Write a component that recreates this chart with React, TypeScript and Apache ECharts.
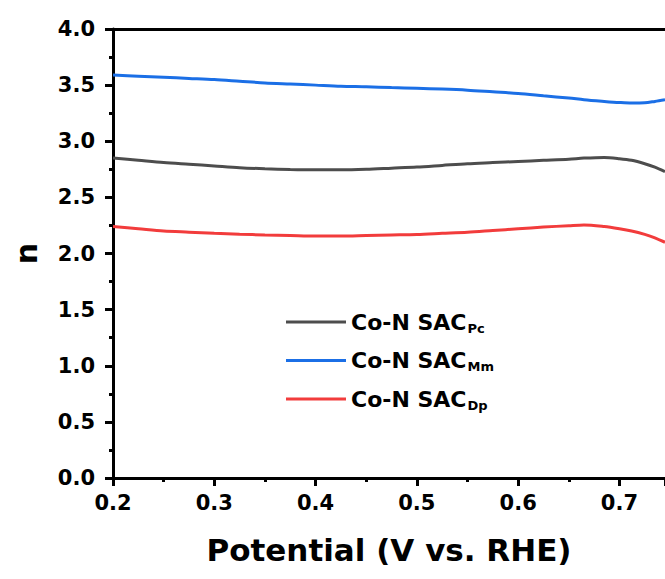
import React, { useEffect, useRef } from "react";
import * as echarts from "echarts";

// Electron transfer number n versus applied potential (V vs. RHE)
const potential = [
  0.2, 0.225, 0.25, 0.275, 0.3, 0.325, 0.35, 0.375, 0.4, 0.425, 0.45, 0.475,
  0.5, 0.525, 0.55, 0.575, 0.6, 0.625, 0.65, 0.665, 0.685, 0.7, 0.712, 0.725,
  0.735, 0.745,
];

const nPc = [
  2.85, 2.83, 2.81, 2.795, 2.78, 2.765, 2.755, 2.748, 2.745, 2.745, 2.75, 2.76,
  2.77, 2.785, 2.8, 2.81, 2.82, 2.83, 2.84, 2.85, 2.856, 2.845, 2.83, 2.8,
  2.77, 2.73,
];

const nMm = [
  3.59, 3.58, 3.57, 3.56, 3.55, 3.535, 3.52, 3.51, 3.5, 3.49, 3.485, 3.478,
  3.472, 3.465, 3.455, 3.44, 3.425, 3.405, 3.385, 3.37, 3.355, 3.345, 3.34,
  3.342, 3.355, 3.37,
];

const nDp = [
  2.24, 2.22, 2.2, 2.19, 2.18, 2.172, 2.165, 2.16, 2.155, 2.155, 2.16, 2.165,
  2.17, 2.18, 2.19, 2.205, 2.22, 2.235, 2.248, 2.255, 2.24, 2.22, 2.2, 2.17,
  2.14, 2.1,
];

const seriesSubs = ["Pc", "Mm", "Dp"];
const seriesColors = ["#4d4d4d", "#1b6fe6", "#f23c3c"];
const seriesValues = [nPc, nMm, nDp];

const yTicks = { min: 0, max: 4, interval: 0.5 };
const xTicks = { min: 0.2, max: 0.745, interval: 0.1 };

const FONT = "'DejaVu Sans', sans-serif";

export default function App() {
  const ref = useRef<HTMLDivElement>(null);

  useEffect(() => {
    if (!ref.current) return;
    const chart = echarts.init(ref.current, null, { renderer: "svg" });

    const series = seriesSubs.map((sub, i) => ({
      name: `Co-N SAC ${sub}`,
      type: "line",
      data: potential.map((x, k) => [x, seriesValues[i][k]]),
      showSymbol: false,
      smooth: 0.3,
      lineStyle: { color: seriesColors[i], width: 3 },
      itemStyle: { color: seriesColors[i] },
      xAxisIndex: 0,
      yAxisIndex: 0,
    }));

    chart.setOption({
      animation: false,
      backgroundColor: "#ffffff",
      grid: { left: 113, top: 29, right: 0, bottom: 101, containLabel: false },
      legend: {
        orient: "vertical",
        left: 281,
        top: 306,
        icon: "rect",
        itemWidth: 60,
        itemHeight: 3,
        itemGap: 15,
        data: series.map((s) => s.name),
        formatter: (name: string) => {
          const sub = name.split(" ").pop();
          return `{m|Co-N SAC}{s|${sub}}`;
        },
        textStyle: {
          rich: {
            m: { fontFamily: FONT, fontWeight: "bold", fontSize: 22, color: "#000" },
            s: {
              fontFamily: FONT,
              fontWeight: "bold",
              fontSize: 13,
              color: "#000",
              padding: [12, 0, 0, 1],
            },
          },
        },
      },
      xAxis: [
        {
          type: "value",
          min: xTicks.min,
          max: xTicks.max,
          interval: xTicks.interval,
          position: "bottom",
          name: "Potential (V vs. RHE)",
          nameLocation: "middle",
          nameGap: 56,
          nameTextStyle: { fontFamily: FONT, fontWeight: "bold", fontSize: 31, color: "#000" },
          axisLine: { show: true, onZero: false, lineStyle: { color: "#000", width: 3 } },
          axisTick: { show: true, inside: false, length: 8, lineStyle: { color: "#000", width: 3 } },
          minorTick: { show: true, splitNumber: 2, length: 4, lineStyle: { color: "#000", width: 3 } },
          axisLabel: {
            margin: 14,
            showMaxLabel: false,
            fontFamily: FONT,
            fontWeight: "bold",
            fontSize: 21,
            color: "#000",
            formatter: (v: number) => v.toFixed(1),
          },
          splitLine: { show: false },
        },
        {
          type: "value",
          min: xTicks.min,
          max: xTicks.max,
          position: "top",
          axisLine: { show: true, onZero: false, lineStyle: { color: "#000", width: 3 } },
          axisTick: { show: false },
          axisLabel: { show: false },
          splitLine: { show: false },
        },
      ],
      yAxis: {
        type: "value",
        min: yTicks.min,
        max: yTicks.max,
        interval: yTicks.interval,
        name: "n",
        nameLocation: "middle",
        nameGap: 72,
        nameTextStyle: { fontFamily: FONT, fontWeight: "bold", fontSize: 30, color: "#000" },
        axisLine: { show: true, onZero: false, lineStyle: { color: "#000", width: 3 } },
        axisTick: { show: true, inside: false, length: 8, lineStyle: { color: "#000", width: 3 } },
        minorTick: { show: true, splitNumber: 2, length: 4, lineStyle: { color: "#000", width: 3 } },
        axisLabel: {
          margin: 18,
          fontFamily: FONT,
          fontWeight: "bold",
          fontSize: 21,
          color: "#000",
          formatter: (v: number) => v.toFixed(1),
        },
        splitLine: { show: false },
      },
      series,
    });

    return () => chart.dispose();
  }, []);

  return (
    <div
      ref={ref}
      style={{ position: "fixed", left: 0, top: 0, width: 665, height: 579, background: "#fff" }}
    />
  );
}
